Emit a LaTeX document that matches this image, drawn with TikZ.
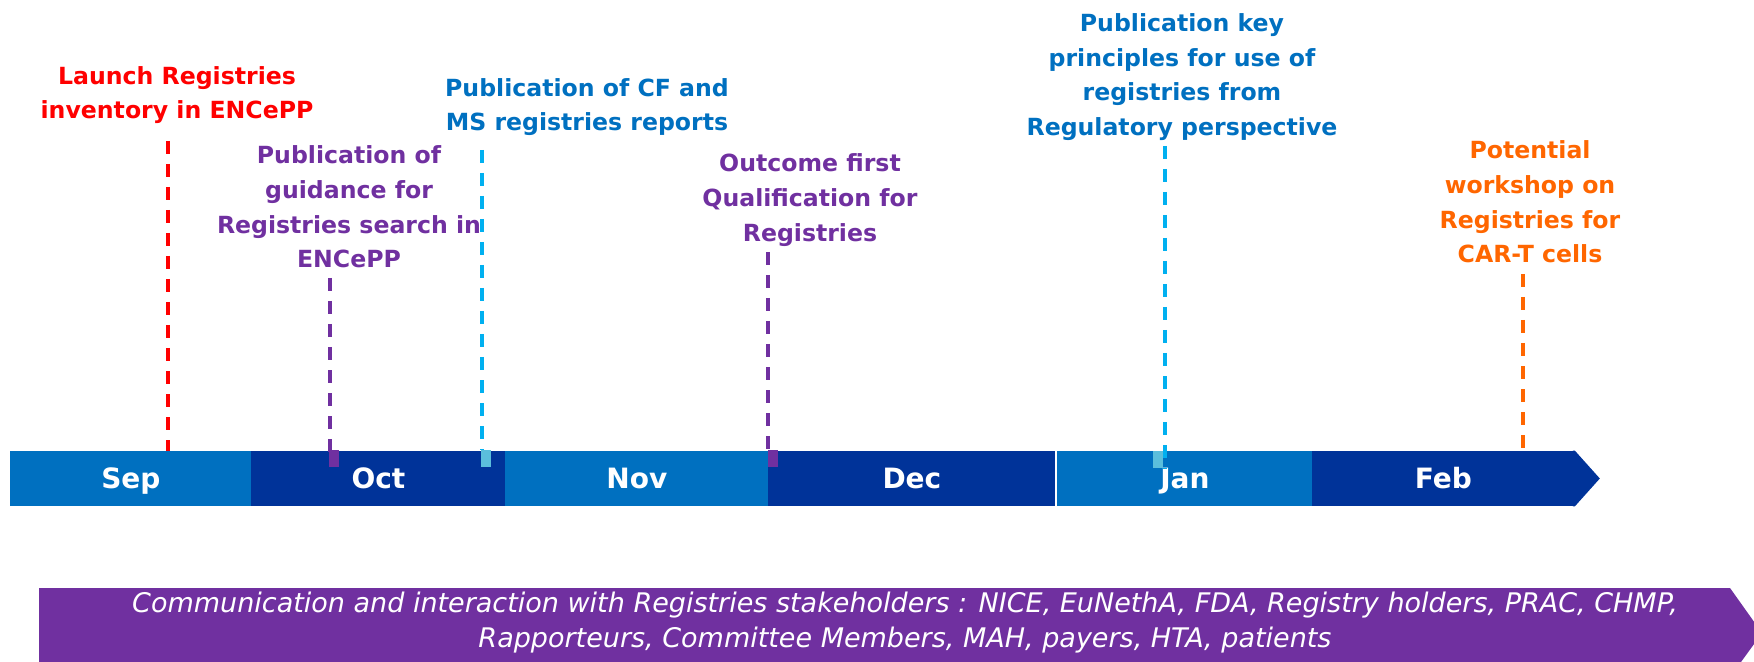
\documentclass[tikz,border=0pt]{standalone}
\usepackage{fontspec}
\setmainfont{DejaVu Sans}
\definecolor{barlight}{RGB}{0,112,192}
\definecolor{bardark}{RGB}{0,51,153}
\definecolor{evred}{RGB}{255,0,0}
\definecolor{evblue}{RGB}{0,112,192}
\definecolor{evpurple}{RGB}{112,48,160}
\definecolor{evorange}{RGB}{255,102,0}
\definecolor{dashblue}{RGB}{0,176,240}
\definecolor{markblue}{RGB}{91,190,220}
\tikzset{
    % Box styles
    month box/.style={
        rectangle,
        inner sep=0pt,
        minimum height=27.5pt,
        anchor=west,
        text=white,
        text height=10.2pt,
        text depth=0pt,
        font=\fontsize{14}{16}\selectfont\bfseries
    },
    mark box/.style={
        rectangle,
        inner sep=0pt,
        minimum width=5pt,
        minimum height=8.5pt
    },
    % Text styles
    event label/.style={
        align=center,
        inner sep=0pt,
        font=\fontsize{11.8}{17.4}\selectfont\bfseries
    },
    comm label/.style={
        align=center,
        inner sep=0pt,
        text=white,
        font=\fontsize{13.5}{17.5}\selectfont\itshape
    },
    % Line styles
    milestone line/.style={
        line width=1.6pt,
        dash pattern=on 6.5pt off 5pt
    }
}

\begin{document}
\begin{tikzpicture}[x=0.5pt, y=-0.5pt]
        \clip (0,0) rectangle (1754,662);

        % Timeline bar
        \foreach \x/\w/\id/\name/\col in {10/120.5pt/sep/Sep/barlight,251/127pt/oct/Oct/bardark,505/131.5pt/nov/Nov/barlight,768/143.5pt/dec/Dec/bardark,1057/127.5pt/jan/Jan/barlight,1312/131pt/feb/Feb/bardark} {
            \node[month box, minimum width=\w, fill=\col] (\id) at (\x,478.5) {\name};
        }
        \fill[bardark] ([xshift=-1pt]feb.north east) -- (feb.north east) -- ([xshift=12.5pt]feb.east) -- (feb.south east) -- ([xshift=-1pt]feb.south east) -- cycle;

        % Milestones
        \node[event label, text=evred] (launch) at (177,95) {Launch Registries\\inventory in ENCePP};
        \node[event label, text=evpurple] (guidance) at (349,207) {Publication of\\guidance for\\Registries search in\\ENCePP};
        \node[event label, text=evblue] (reports) at (587,107) {Publication of CF and\\MS registries reports};
        \node[event label, text=evpurple] (outcome) at (810,200) {Outcome first\\Qualification for\\Registries};
        \node[event label, text=evblue] (principles) at (1182,77) {Publication key\\principles for use of\\registries from\\Regulatory perspective};
        \node[event label, text=evorange] (workshop) at (1530,202) {Potential\\workshop on\\Registries for\\CAR-T cells};

        \coordinate (launchtop) at (168,141);
        \coordinate (guidtop) at (330,278);
        \coordinate (reporttop) at (482,150);
        \coordinate (outtop) at (768,252);
        \coordinate (princtop) at (1165,146);
        \coordinate (worktop) at (1523,274);

        \node[mark box] (guidmark) at (334,458.5) {};
        \node[mark box] (reportmark) at (486,458.5) {};
        \node[mark box] (outmark) at (773,458.5) {};
        \node[mark box] (princmark) at (1158,459.5) {};

        \draw[milestone line, evred] (launchtop) -- (launchtop |- sep.north);
        \draw[milestone line, evpurple] (guidtop) -- (guidtop |- guidmark.center);
        \draw[milestone line, dashblue] (reporttop) -- (reporttop |- reportmark.north);
        \draw[milestone line, evpurple] (outtop) -- (outtop |- outmark.north);
        \draw[milestone line, dashblue] (princtop) -- (princtop |- princmark.south);
        \draw[milestone line, evorange] (worktop) -- (worktop |- feb.north);

        \fill[evpurple] (guidmark.north west) rectangle (guidmark.south east);
        \fill[markblue] (reportmark.north west) rectangle (reportmark.south east);
        \fill[evpurple] (outmark.north west) rectangle (outmark.south east);
        \fill[markblue] (princmark.north west) rectangle (princmark.south east);

        % Stakeholder banner
        \fill[evpurple] (39,588) -- (1730,588) -- (1762,633) -- (1741,662) -- (39,662) -- cycle;
        \node[comm label] (comm) at (905,623) {Communication and interaction with Registries stakeholders : NICE, EuNethA, FDA, Registry holders, PRAC, CHMP,\\Rapporteurs, Committee Members, MAH, payers, HTA, patients};
\end{tikzpicture}
\end{document}
